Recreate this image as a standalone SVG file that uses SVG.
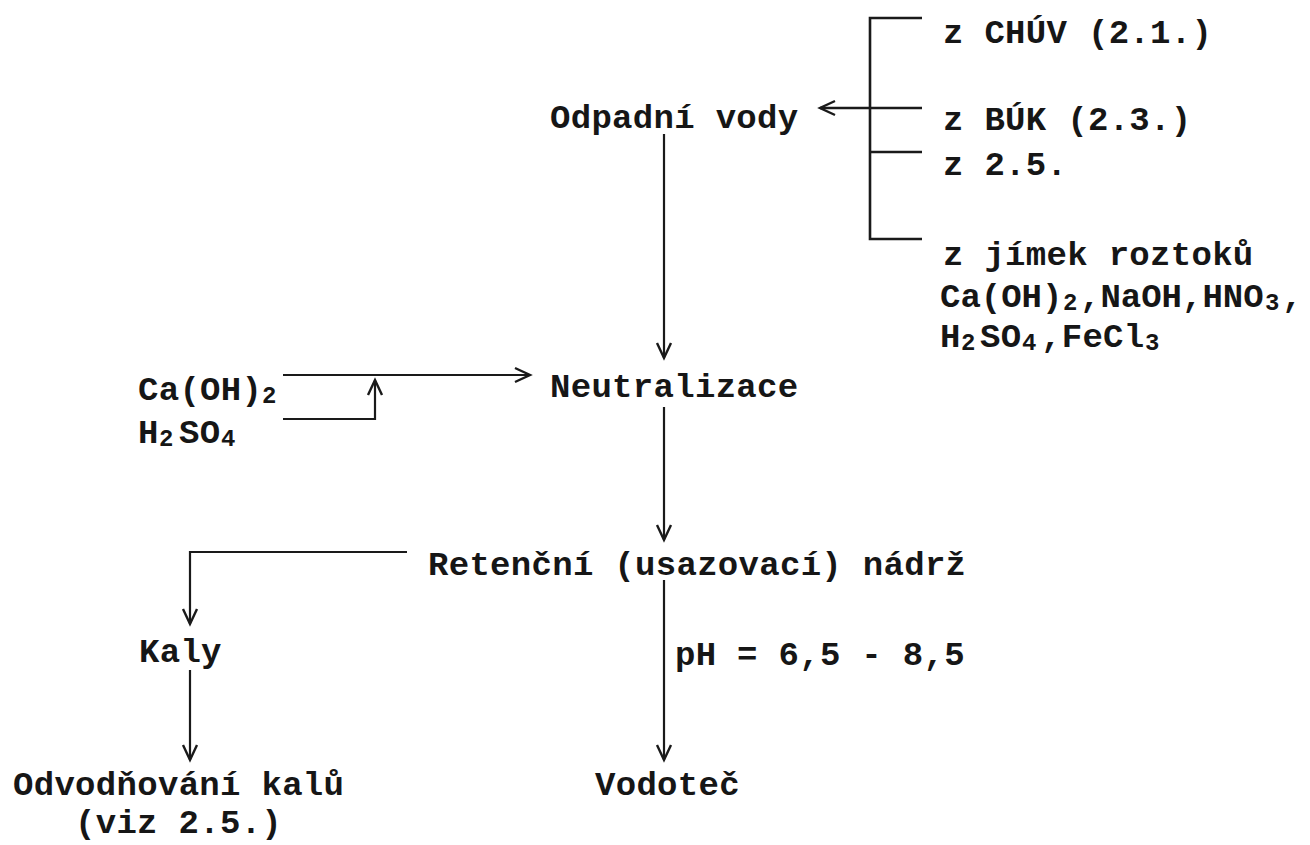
<svg xmlns="http://www.w3.org/2000/svg" width="1310" height="845" viewBox="0 0 1310 845">
<defs>
<style>
text{font-family:"Liberation Mono","DejaVu Sans Mono",monospace;font-weight:bold;font-size:34px;letter-spacing:0.3px;fill:#161616}
.sub{font-size:24px;letter-spacing:0}
.tight{letter-spacing:0}
.ln{fill:none;stroke:#1a1a1a;stroke-width:2.2}
.br{fill:none;stroke:#1a1a1a;stroke-width:2.6}
</style>
<marker id="ah" markerUnits="userSpaceOnUse" markerWidth="24" markerHeight="24" viewBox="-20 -12 24 24" refX="0" refY="0" orient="auto">
<path d="M-15,-7 L0,0 L-15,7" fill="none" stroke="#1a1a1a" stroke-width="2.4" stroke-linejoin="miter"/>
</marker>
</defs>
<rect width="1310" height="845" fill="#ffffff"/>
<g id="connectors">
<path class="br" d="M922,18 H870 V239 H922"/>
<path class="br" d="M870,152 H922"/>
<path class="br" d="M922,108 H820" marker-end="url(#ah)"/>
<path class="ln" d="M664,134 V358" marker-end="url(#ah)"/>
<path class="ln" d="M283,375 H530" marker-end="url(#ah)"/>
<path class="ln" d="M283,419 H375 V380" marker-end="url(#ah)"/>
<path class="ln" d="M664,407 V540" marker-end="url(#ah)"/>
<path class="ln" d="M407,552 H190 V624" marker-end="url(#ah)"/>
<path class="ln" d="M664,580 V760" marker-end="url(#ah)"/>
<path class="ln" d="M190,670 V760" marker-end="url(#ah)"/>
</g>
<g id="src-chuv"><text x="943" y="43">z CHÚV (2.1.)</text></g>
<g id="src-buk"><text x="943" y="130">z BÚK (2.3.)</text></g>
<g id="src-25"><text x="943" y="175">z 2.5.</text></g>
<g id="src-jimky">
<text x="943" y="265">z jímek roztoků</text>
<text class="tight" y="307"><tspan x="940">Ca(OH)</tspan><tspan class="sub" x="1063" dy="3">2</tspan><tspan x="1080" dy="-3">,NaOH,HNO</tspan><tspan class="sub" x="1265" dy="3">3</tspan><tspan x="1282" dy="-3">,</tspan></text>
<text y="347"><tspan x="940">H</tspan><tspan class="sub" x="961" dy="3">2</tspan><tspan x="980" dy="-3">SO</tspan><tspan class="sub" x="1022" dy="3">4</tspan><tspan x="1041" dy="-3">,FeCl</tspan><tspan class="sub" x="1145" dy="3">3</tspan></text>
</g>
<g id="odpadni-vody"><text x="550" y="128">Odpadní vody</text></g>
<g id="reagents">
<text y="400"><tspan x="138">Ca(OH)</tspan><tspan class="sub" x="262" dy="3">2</tspan></text>
<text y="443"><tspan x="138">H</tspan><tspan class="sub" x="159" dy="3">2</tspan><tspan x="179" dy="-3">SO</tspan><tspan class="sub" x="221" dy="3">4</tspan></text>
</g>
<g id="neutralizace"><text x="550" y="397">Neutralizace</text></g>
<g id="retencni-nadrz"><text x="428" y="575">Retenční (usazovací) nádrž</text></g>
<g id="kaly"><text x="139" y="662">Kaly</text></g>
<g id="ph-label"><text x="675" y="665">pH = 6,5 - 8,5</text></g>
<g id="odvodnovani">
<text x="13" y="795">Odvodňování kalů</text>
<text x="75" y="833">(viz 2.5.)</text>
</g>
<g id="vodotec"><text x="595" y="795">Vodoteč</text></g>
</svg>
